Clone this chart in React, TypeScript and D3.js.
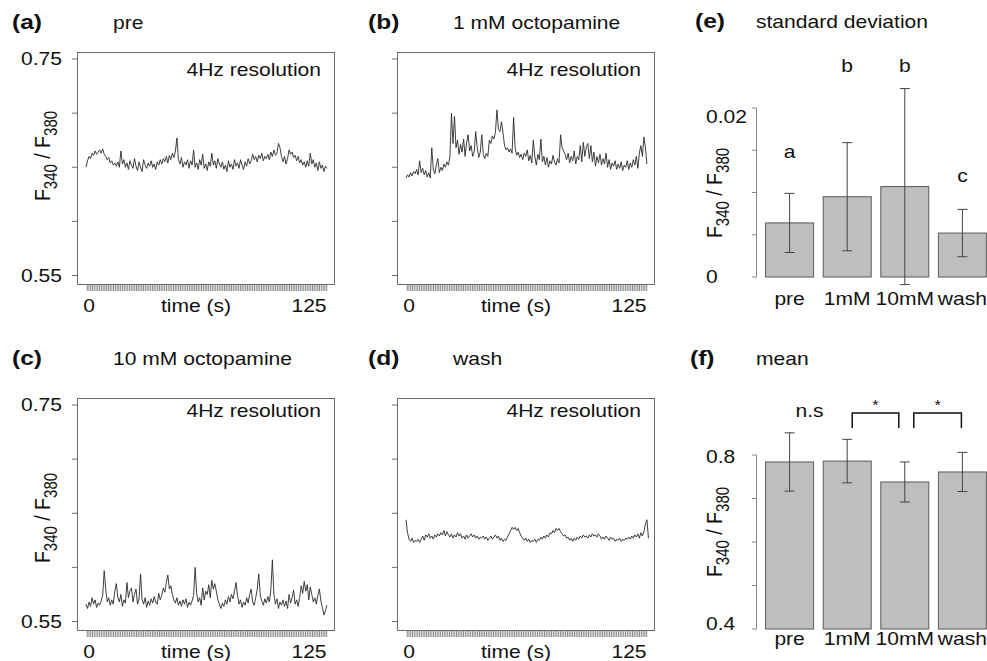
import React from "react";
import * as d3 from "d3";

const FONT = "'Liberation Sans', Arial, Helvetica, sans-serif";
// the original figure is stretched sideways, so text is widened a little
const SX = 1.17;

// F340/F380 ratio x 1000, sampled along the 4Hz recordings
const tracePre = [
  650, 656, 660, 658, 663, 661, 665, 662, 664, 666,
  663, 667, 662, 660, 657, 659, 654, 656, 652, 654,
  651, 655, 650, 665, 653, 657, 650, 654, 648, 656,
  652, 649, 658, 651, 647, 655, 650, 646, 657, 652,
  649, 654, 651, 656, 650, 653, 648, 655, 652, 657,
  653, 658, 655, 660, 654, 661, 657, 663, 659, 665,
  677, 657, 653, 659, 650, 655, 652, 657, 649, 656,
  652, 666, 650, 654, 648, 657, 652, 662, 649, 653,
  647, 655, 651, 663, 652, 656, 649, 658, 653, 650,
  655, 648, 652, 646, 656, 650, 653, 648, 657, 651,
  654, 649, 657, 652, 648, 655, 651, 658, 653, 656,
  662, 657, 660, 655, 661, 658, 663, 656, 660, 658,
  662, 657, 664, 660, 666, 661, 663, 672, 668, 660,
  655, 660, 653, 658, 666, 662, 664, 659, 661, 656,
  660, 654, 657, 652, 655, 650, 656, 651, 663, 653,
  657, 650, 654, 647, 655, 649, 652, 646, 651, 649,
];
const trace1mM = [
  640, 643, 641, 645, 642, 646, 644, 648, 643, 656,
  645, 649, 643, 647, 641, 645, 640, 668, 648, 644,
  652, 658, 645, 650, 647, 653, 650, 655, 652, 660,
  700, 672, 697, 668, 675, 662, 671, 664, 676, 660,
  673, 680, 665, 670, 660, 664, 683, 668, 659, 664,
  680, 662, 658, 663, 660, 675, 672, 679, 676, 682,
  703, 685, 683, 692, 682, 670, 666, 668, 664, 667,
  663, 696, 668, 661, 664, 659, 662, 657, 663, 660,
  666, 656, 661, 654, 675, 660, 652, 662, 657, 676,
  655, 660, 652, 659, 650, 656, 653, 661, 655, 652,
  658, 654, 680, 668, 665, 662, 657, 663, 654, 660,
  656, 665, 653, 660, 657, 670, 655, 673, 660, 669,
  672, 658, 670, 655, 664, 651, 660, 654, 662, 652,
  658, 653, 663, 650, 657, 648, 654, 651, 656, 648,
  653, 649, 655, 647, 652, 650, 656, 648, 654, 650,
  657, 652, 660, 649, 663, 670, 660, 678, 668, 653,
];
const trace10mM = [
  566, 562, 568, 564, 572, 566, 570, 563, 567, 565,
  569, 574, 597, 580, 568, 572, 565, 570, 566, 578,
  585, 572, 568, 575, 564, 570, 567, 586, 572, 578,
  581, 568, 575, 580, 566, 571, 594, 570, 566, 572,
  563, 569, 565, 571, 567, 573, 568, 566, 576, 570,
  574, 581, 577, 586, 593, 580, 583, 575, 570, 567,
  572, 565, 569, 564, 570, 566, 571, 563, 568, 565,
  569, 574, 600, 576, 568, 572, 565, 581, 570, 578,
  575, 584, 572, 588, 580, 585, 578, 570, 566, 562,
  567, 564, 570, 566, 573, 568, 575, 571, 578, 586,
  574, 566, 570, 563, 568, 565, 572, 567, 575, 580,
  568, 565, 572, 580, 594, 574, 569, 565, 571, 567,
  573, 568, 580, 607, 575, 566, 571, 562, 568, 565,
  570, 564, 569, 562, 575, 567, 572, 579, 566, 570,
  564, 572, 583, 576, 587, 578, 584, 570, 582, 575,
  568, 572, 566, 574, 580, 569, 563, 556, 560, 565,
];
const traceWash = [
  644, 632, 626, 624, 627, 623, 625, 624, 626, 623,
  626, 629, 625, 630, 628, 631, 627, 629, 626, 630,
  628, 631, 629, 632, 630, 634, 629, 633, 630, 628,
  631, 627, 630, 628, 632, 629, 631, 627, 629, 626,
  630, 627, 629, 631, 628, 630, 627, 629, 626, 628,
  627, 629, 626, 628, 625, 627, 629, 626, 628, 630,
  627, 629, 625, 627, 624, 626, 625, 628, 631, 634,
  637, 635, 637, 634, 636, 632, 629, 627, 625, 627,
  624, 626, 623, 625, 624, 626, 623, 626, 625, 628,
  626, 629, 627, 630, 628, 632, 631, 634, 632, 636,
  634, 636, 633, 631, 629, 630, 627, 628, 625, 627,
  624, 627, 625, 628, 626, 629, 627, 630, 628, 629,
  627, 630, 628, 631, 629, 630, 628, 631, 629, 626,
  628, 626, 629, 627, 625, 628, 626, 627, 624, 626,
  625, 627, 624, 626, 625, 627, 626, 628, 626, 629,
  627, 630, 628, 631, 627, 632, 629, 633, 640, 644, 627,
];
const T0 = -1.7; // seconds, first sample
const DT = 0.861; // seconds between samples

const groups = ["pre", "1mM", "10mM", "wash"];
const sdValue = [0.0064, 0.0095, 0.0107, 0.0052];
const sdErr = [0.0035, 0.0064, 0.0116, 0.0028];
const sdLetters = ["a", "b", "b", "c"];
const sdLetterAt = [0.0141, 0.0243, 0.0243, 0.0112];
const meanValue = [0.784, 0.786, 0.738, 0.761];
const meanErr = [0.067, 0.05, 0.046, 0.045];
const meanBrackets = [
  { from: 1, to: 2 },
  { from: 2, to: 3 },
];

function Txt({ x, y, anchor = "start", size = 18, weight = "normal", children }: any) {
  return (
    <text
      transform={`translate(${x},${y}) scale(${SX},1)`}
      textAnchor={anchor}
      fontFamily={FONT}
      fontSize={size}
      fontWeight={weight}
      fill="#111"
    >
      {children}
    </text>
  );
}

function YTitle({ x, y }: any) {
  return (
    <text
      transform={`translate(${x},${y}) scale(${SX},1) rotate(-90)`}
      textAnchor="middle"
      fontFamily={FONT}
      fontSize={19.5}
      fill="#111"
    >
      F<tspan fontSize={15} dy={6}>340</tspan>
      <tspan dy={-6}> / F</tspan>
      <tspan fontSize={15} dy={6}>380</tspan>
    </text>
  );
}

function TracePanel({ left, top, tag, tagX, title, titleX, titleY, resY, data, labels, ytitleY }: any) {
  const right = left + 257;
  const bottom = top + 232;
  const y = d3.scaleLinear().domain([0.55, 0.75]).range([bottom - 8.5, top + 7]);
  const x = d3.scaleLinear().domain([0, 125]).range([left + 12, left + 232]);
  const line = d3
    .line<number>()
    .x((d, i) => x(T0 + i * DT))
    .y((d) => y(d / 1000));
  const rug = d3.range(-1, 136);
  return (
    <g>
      <Txt x={tagX} y={titleY} size={21} weight="bold">{tag}</Txt>
      <Txt x={titleX} y={titleY}>{title}</Txt>
      <rect x={left + 0.5} y={top + 0.5} width={right - left} height={bottom - top} fill="none" stroke="#6b6b6b" />
      {y.ticks(4).map((t) => (
        <line key={t} x1={left - 5} x2={left} y1={y(t)} y2={y(t)} stroke="#6b6b6b" />
      ))}
      {rug.map((t) => (
        <line key={t} x1={x(t)} x2={x(t)} y1={bottom + 1} y2={bottom + 7} stroke="#666" strokeWidth={0.8} />
      ))}
      <path d={line(data) || ""} fill="none" stroke="#2a2a2a" strokeWidth={0.9} />
      <Txt x={right - 13} y={top + resY} anchor="end">4Hz resolution</Txt>
      <Txt x={x(0)} y={bottom + 27.5} anchor="middle">0</Txt>
      <Txt x={x(125)} y={bottom + 27.5} anchor="middle">125</Txt>
      <Txt x={x(62.5) - 3} y={bottom + 27.5} anchor="middle">time (s)</Txt>
      {labels && (
        <g>
          <Txt x={62} y={y(0.75) + 6.3} anchor="end">0.75</Txt>
          <Txt x={62} y={y(0.55) + 6.3} anchor="end">0.55</Txt>
          <YTitle x={50} y={ytitleY} />
        </g>
      )}
    </g>
  );
}

const band = d3.scaleBand().domain(groups).range([756, 996]).paddingInner(1 / 6).paddingOuter(1 / 6);

function BarPanel({ tag, tagX, title, titleY, y, values, errs, base, tickVals, tickLabels, catY, ytitleY, children }: any) {
  const [y0, y1] = y.range();
  return (
    <g>
      <Txt x={tagX} y={titleY} size={21} weight="bold">{tag}</Txt>
      <Txt x={756} y={titleY}>{title}</Txt>
      <line x1={756.5} x2={756.5} y1={y1} y2={y0} stroke="#888" />
      {tickVals.map((t: number) => (
        <line key={t} x1={752} x2={756.5} y1={y(t)} y2={y(t)} stroke="#888" />
      ))}
      {tickLabels.map((l: any) => (
        <Txt key={l.text} x={706} y={l.cy + 6.3}>{l.text}</Txt>
      ))}
      <YTitle x={722} y={ytitleY} />
      {groups.map((g, i) => {
        const bx = band(g) as number;
        const cx = bx + band.bandwidth() / 2;
        return (
          <g key={g}>
            <rect
              x={bx}
              y={y(values[i])}
              width={band.bandwidth()}
              height={y(base) - y(values[i])}
              fill="#bebebe"
              stroke="#5a5a5a"
            />
            <line x1={cx} x2={cx} y1={y(values[i] + errs[i])} y2={y(values[i] - errs[i])} stroke="#444" />
            <line x1={cx - 5} x2={cx + 5} y1={y(values[i] + errs[i])} y2={y(values[i] + errs[i])} stroke="#444" />
            <line x1={cx - 5} x2={cx + 5} y1={y(values[i] - errs[i])} y2={y(values[i] - errs[i])} stroke="#444" />
            <Txt x={cx} y={catY} anchor="middle">{g}</Txt>
          </g>
        );
      })}
      {children}
    </g>
  );
}

function SdPanel() {
  const y = d3.scaleLinear().domain([0, 0.02]).range([277, 108]);
  return (
    <BarPanel
      tag="(e)"
      tagX={695}
      title="standard deviation"
      titleY={28}
      y={y}
      values={sdValue}
      errs={sdErr}
      base={0}
      tickVals={[0, 0.005, 0.01, 0.015, 0.02]}
      tickLabels={[
        { text: "0.02", cy: 117 },
        { text: "0", cy: 277 },
      ]}
      catY={305}
      ytitleY={193}
    >
      {groups.map((g, i) => (
        <Txt key={g} x={(band(g) as number) + band.bandwidth() / 2} y={y(sdLetterAt[i])} anchor="middle">
          {sdLetters[i]}
        </Txt>
      ))}
    </BarPanel>
  );
}

function MeanPanel() {
  const y = d3.scaleLinear().domain([0.4, 0.8]).range([629, 455]);
  const c = (i: number) => (band(groups[i]) as number) + band.bandwidth() / 2;
  return (
    <BarPanel
      tag="(f)"
      tagX={690}
      title="mean"
      titleY={365}
      y={y}
      values={meanValue}
      errs={meanErr}
      base={0.4}
      tickVals={[0.4, 0.5, 0.6, 0.7, 0.8]}
      tickLabels={[
        { text: "0.8", cy: 457 },
        { text: "0.4", cy: 623.5 },
      ]}
      catY={645}
      ytitleY={532}
    >
      <Txt x={c(0) + 20} y={y(0.887)} anchor="middle">n.s</Txt>
      {meanBrackets.map((b, k) => {
        const xa = c(b.from) + (k === 0 ? 5 : 9);
        const xb = c(b.to) - (k === 0 ? 6 : 1);
        const top = y(0.8966);
        const leg = y(0.862);
        return (
          <g key={k}>
            <path d={`M${xa},${leg}V${top}H${xb}V${leg}`} fill="none" stroke="#111" strokeWidth={1.5} />
            <Txt x={(xa + xb) / 2} y={top - 3} anchor="middle" size={14}>*</Txt>
          </g>
        );
      })}
    </BarPanel>
  );
}

export default function App() {
  return (
    <svg width={987} height={661} style={{ position: "absolute", left: 0, top: 0, background: "#fff" }}>
      <TracePanel left={77} top={52} tag="(a)" tagX={12} title="pre" titleX={113} titleY={29} resY={24} data={tracePre} labels ytitleY={156} />
      <TracePanel left={397} top={52} tag="(b)" tagX={368} title="1 mM octopamine" titleX={453} titleY={29} resY={24} data={trace1mM} />
      <TracePanel left={77} top={398} tag="(c)" tagX={12} title="10 mM octopamine" titleX={113} titleY={365} resY={19} data={trace10mM} labels ytitleY={518} />
      <TracePanel left={397} top={398} tag="(d)" tagX={368} title="wash" titleX={453} titleY={365} resY={19} data={traceWash} />
      <SdPanel />
      <MeanPanel />
    </svg>
  );
}
